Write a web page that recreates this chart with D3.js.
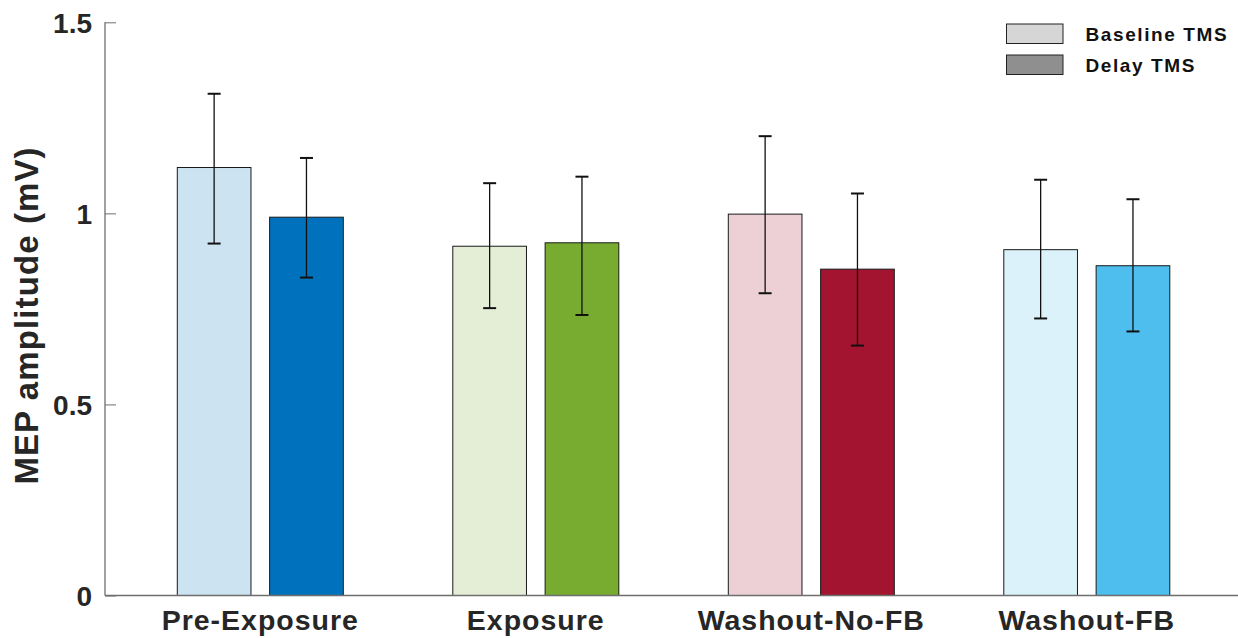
<!DOCTYPE html>
<html>
<head>
<meta charset="utf-8">
<script src="https://cdn.jsdelivr.net/npm/d3@7"></script>
<style>
  body { margin: 0; background: #fff; }
  text { font-family: "Liberation Sans", Arial, sans-serif; }
</style>
</head>
<body>
<div class="canvas"></div>
<script>
// data
const categories = ["Pre-Exposure", "Exposure", "Washout-No-FB", "Washout-FB"];
const seriesNames = ["Baseline TMS", "Delay TMS"];
const baselineMean = [1.120, 0.914, 0.998, 0.905];
const baselineHi = [1.313, 1.079, 1.202, 1.088];
const baselineLo = [0.921, 0.752, 0.791, 0.725];
const delayMean = [0.990, 0.923, 0.854, 0.863];
const delayHi = [1.145, 1.096, 1.052, 1.037];
const delayLo = [0.832, 0.734, 0.654, 0.691];
const yTicks = [0, 0.5, 1, 1.5];
const baseColors = ["#cce3f2", "#e4eed6", "#ecd0d6", "#dbf2fb"];
const delayColors = ["#0072bd", "#77ac30", "#a2142f", "#4dbeee"];
const legendColors = ["#d6d6d6", "#8f8f8f"];

const width = 1238, height = 638;

const svg = d3.select(".canvas").append("svg")
  .attr("width", width)
  .attr("height", height);

const y = d3.scaleLinear().domain([0, 1.5]).range([595.5, 22.3]);
const x = d3.scalePoint().domain(categories).range([260.3, 1086.8]);
const inner = d3.scaleBand().domain(["base", "delay"]).range([-83, 83]).paddingInner(0.202);

const rows = categories.map((c, i) => [
  { cat: c, key: "base", v: baselineMean[i], hi: baselineHi[i], lo: baselineLo[i], fill: baseColors[i] },
  { cat: c, key: "delay", v: delayMean[i], hi: delayHi[i], lo: delayLo[i], fill: delayColors[i] }
]).flat();

// bars
svg.append("g").selectAll("rect")
  .data(rows)
  .join("rect")
  .attr("x", d => x(d.cat) + inner(d.key))
  .attr("y", d => y(d.v))
  .attr("width", inner.bandwidth())
  .attr("height", d => y(0) - y(d.v))
  .attr("fill", d => d.fill)
  .attr("stroke", "#1a1a1a")
  .attr("stroke-width", 1);

// error bars
const eb = svg.append("g").attr("stroke", "#111").attr("stroke-width", 1.3);
rows.forEach(d => {
  const cx = x(d.cat) + inner(d.key) + inner.bandwidth() / 2;
  eb.append("line").attr("x1", cx).attr("x2", cx).attr("y1", y(d.hi)).attr("y2", y(d.lo));
  [d.hi, d.lo].forEach(v => {
    eb.append("line").attr("x1", cx - 6.5).attr("x2", cx + 6.5).attr("y1", y(v)).attr("y2", y(v))
      .attr("stroke-width", 2);
  });
});

// axes
const axisColor = "#6e6e6e";
svg.append("line")
  .attr("x1", 105).attr("x2", width).attr("y1", y(0)).attr("y2", y(0))
  .attr("stroke", axisColor).attr("stroke-width", 1.5);

const yAxis = svg.append("g")
  .attr("transform", "translate(105,0)")
  .call(d3.axisRight(y).tickValues(yTicks).tickSize(11).tickFormat(d3.format("")));
yAxis.select(".domain").attr("stroke", axisColor).attr("stroke-width", 1.3)
  .attr("d", `M0,${y(1.5)}V${y(0)}`);
yAxis.selectAll(".tick line").attr("stroke", axisColor);
yAxis.selectAll(".tick text")
  .attr("x", -13)
  .attr("text-anchor", "end")
  .attr("dy", "0.36em")
  .attr("fill", "#262626")
  .style("font-size", "28px")
  .style("font-weight", "bold");

// category labels
svg.append("g").selectAll("text")
  .data(categories)
  .join("text")
  .attr("x", d => x(d))
  .attr("y", 630)
  .attr("text-anchor", "middle")
  .attr("fill", "#262626")
  .style("font-size", "28.5px")
  .style("font-weight", "bold")
  .style("letter-spacing", "1px")
  .text(d => d);

// y label
svg.append("text")
  .attr("transform", "translate(38,315.5) rotate(-90)")
  .attr("text-anchor", "middle")
  .attr("fill", "#262626")
  .style("font-size", "33px")
  .style("font-weight", "bold")
  .style("letter-spacing", "1.1px")
  .text("MEP amplitude (mV)");

// legend
const lg = svg.append("g").selectAll("g")
  .data(seriesNames)
  .join("g")
  .attr("transform", (d, i) => `translate(1006.5,${24 + i * 31})`);
lg.append("rect")
  .attr("width", 56.5).attr("height", 19.5)
  .attr("fill", (d, i) => legendColors[i])
  .attr("stroke", "#222").attr("stroke-width", 1);
lg.append("text")
  .attr("x", 79).attr("y", 16.5)
  .attr("fill", "#111")
  .style("font-size", "19px")
  .style("font-weight", "bold")
  .style("letter-spacing", "1.6px")
  .text(d => d);
</script>
</body>
</html>
